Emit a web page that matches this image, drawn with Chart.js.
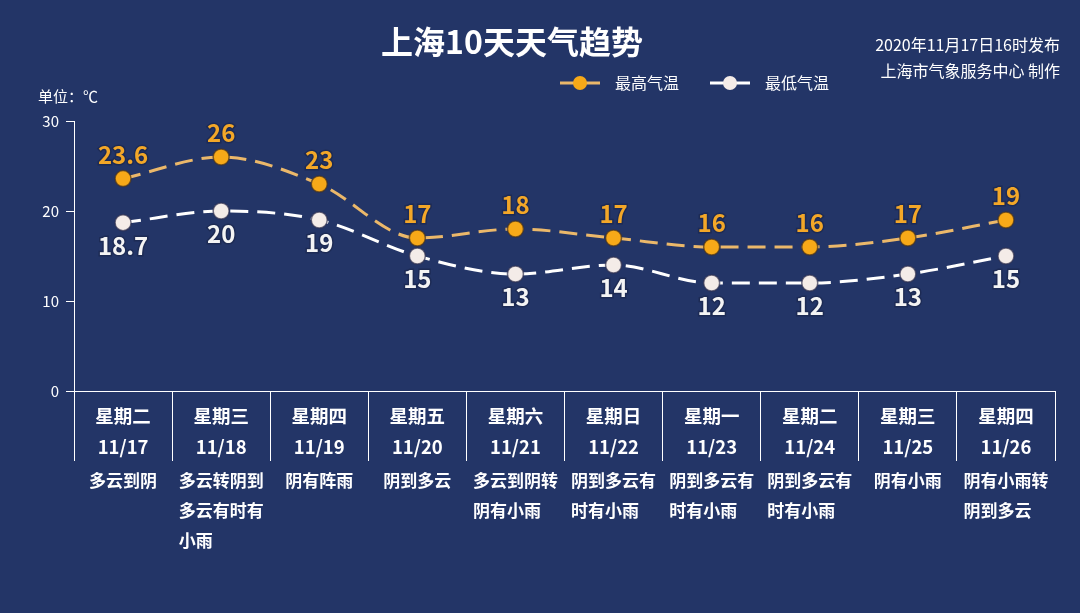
<!DOCTYPE html>
<html>
<head>
<meta charset="utf-8">
<script src="https://cdn.jsdelivr.net/npm/chart.js@4/dist/chart.umd.min.js"></script>
<style>
html,body{margin:0;padding:0;background:#233567;}
#wrap{width:1080px;height:613px;position:relative;}
</style>
</head>
<body>
<div id="wrap"><canvas id="c" width="1080" height="613"></canvas></div>
<script>
const weekdays = ["星期二","星期三","星期四","星期五","星期六","星期日","星期一","星期二","星期三","星期四"];
const dates = ["11/17","11/18","11/19","11/20","11/21","11/22","11/23","11/24","11/25","11/26"];
const weather = [
  ["多云到阴"],
  ["多云转阴到","多云有时有","小雨"],
  ["阴有阵雨"],
  ["阴到多云"],
  ["多云到阴转","阴有小雨"],
  ["阴到多云有","时有小雨"],
  ["阴到多云有","时有小雨"],
  ["阴到多云有","时有小雨"],
  ["阴有小雨"],
  ["阴有小雨转","阴到多云"]
];
const highTemps = [23.6, 26, 23, 17, 18, 17, 16, 16, 17, 19];
const lowTemps = [18.7, 20, 19, 15, 13, 14, 12, 12, 13, 15];
const yTicks = [0, 10, 20, 30];
const titleText = "上海10天天气趋势";
const issueText = ["2020年11月17日16时发布", "上海市气象服务中心 制作"];
const unitText = "单位：℃";

const FONT = '"Noto Sans CJK SC", "Noto Sans", sans-serif';

const labels = weekdays.map((w, i) => [w, dates[i]]);

const bgPlugin = {
  id: 'bg',
  beforeDraw(chart) {
    const ctx = chart.ctx;
    ctx.save();
    ctx.fillStyle = '#233567';
    ctx.fillRect(0, 0, chart.width, chart.height);
    ctx.restore();
  }
};

const valueLabels = {
  id: 'valueLabels',
  afterDatasetsDraw(chart) {
    const ctx = chart.ctx;
    chart.data.datasets.forEach((ds, di) => {
      const meta = chart.getDatasetMeta(di);
      ctx.save();
      ctx.font = 'bold 24px ' + FONT;
      ctx.textAlign = 'center';
      ctx.textBaseline = 'middle';
      meta.data.forEach((pt, i) => {
        const y = ds.labelPos === 'top' ? pt.y - 24 : pt.y + 23;
        ctx.lineWidth = 3;
        ctx.strokeStyle = 'rgba(25,35,70,0.55)';
        ctx.strokeText(String(ds.data[i]), pt.x, y);
        ctx.fillStyle = ds.labelColor;
        ctx.fillText(String(ds.data[i]), pt.x, y);
      });
      ctx.restore();
    });
  }
};

const decor = {
  id: 'decor',
  afterDraw(chart) {
    const ctx = chart.ctx;
    const xs = chart.scales.x;
    ctx.save();
    // weather descriptions
    ctx.font = 'bold 17px ' + FONT;
    ctx.fillStyle = '#ffffff';
    ctx.textBaseline = 'middle';
    ctx.textAlign = 'left';
    weather.forEach((lines, i) => {
      const cx = xs.getPixelForTick(i);
      let w = 0;
      lines.forEach(l => { w = Math.max(w, ctx.measureText(l).width); });
      const x0 = cx - w / 2;
      lines.forEach((l, j) => ctx.fillText(l, x0, 481 + j * 30));
    });
    // title
    ctx.font = 'bold 32px ' + FONT;
    ctx.textAlign = 'center';
    ctx.fillText(titleText, 512, 42);
    // issue text
    ctx.font = '16px ' + FONT;
    ctx.textAlign = 'right';
    ctx.fillText(issueText[0], 1060, 45);
    ctx.fillText(issueText[1], 1060, 71);
    // unit
    ctx.font = '15px ' + FONT;
    ctx.textAlign = 'left';
    ctx.fillText(unitText, 38, 96);
    // legend
    const items = [
      {x: 560, ds: chart.data.datasets[0]},
      {x: 710, ds: chart.data.datasets[1]}
    ];
    items.forEach(it => {
      const y = 83;
      ctx.strokeStyle = it.ds.borderColor;
      ctx.lineWidth = 3;
      ctx.beginPath();
      ctx.moveTo(it.x, y);
      ctx.lineTo(it.x + 40, y);
      ctx.stroke();
      ctx.fillStyle = it.ds.pointBackgroundColor;
      ctx.beginPath();
      ctx.arc(it.x + 20, y, 7, 0, Math.PI * 2);
      ctx.fill();
      ctx.fillStyle = '#ffffff';
      ctx.font = '16px ' + FONT;
      ctx.textAlign = 'left';
      ctx.fillText(it.ds.label, it.x + 55, y);
    });
    ctx.restore();
  }
};

new Chart(document.getElementById('c'), {
  type: 'line',
  data: {
    labels: labels,
    datasets: [
      {
        label: '最高气温',
        data: highTemps,
        borderColor: '#ebb86a',
        borderWidth: 3,
        borderDash: [18, 9],
        cubicInterpolationMode: 'monotone',
        pointRadius: 8,
        pointBackgroundColor: '#f7a918',
        pointBorderColor: 'rgba(70,50,30,0.7)',
        pointBorderWidth: 1.5,
        labelPos: 'top',
        labelColor: '#f3a728',
        clip: false
      },
      {
        label: '最低气温',
        data: lowTemps,
        borderColor: '#ffffff',
        borderWidth: 3,
        borderDash: [18, 9],
        cubicInterpolationMode: 'monotone',
        pointRadius: 8,
        pointBackgroundColor: '#f4ece8',
        pointBorderColor: 'rgba(50,50,80,0.7)',
        pointBorderWidth: 1.5,
        labelPos: 'bottom',
        labelColor: '#f4f4f4',
        clip: false
      }
    ]
  },
  options: {
    responsive: false,
    animation: false,
    devicePixelRatio: 1,
    layout: { padding: { top: 121, right: 25, left: 0, bottom: 0 } },
    plugins: { legend: { display: false }, title: { display: false }, tooltip: { enabled: false } },
    scales: {
      x: {
        type: 'category',
        offset: true,
        grid: { offset: true, drawOnChartArea: false, tickLength: 70, color: '#ffffff', lineWidth: 1 },
        border: { color: '#ffffff', width: 1 },
        ticks: { color: '#ffffff', font: { family: FONT, size: 18.5, weight: 'bold', lineHeight: 1.68 }, padding: -60.5, maxRotation: 0, autoSkip: false },
        afterFit(s) { s.height = 222; }
      },
      y: {
        min: 0, max: 30,
        afterBuildTicks(s) { s.ticks = yTicks.map(v => ({ value: v })); },
        grid: { drawOnChartArea: false, tickLength: 8, color: '#ffffff', lineWidth: 1 },
        border: { color: '#ffffff', width: 1 },
        ticks: { color: '#ffffff', font: { family: FONT, size: 15 }, padding: 7 },
        afterFit(s) { s.width = 74; }
      }
    }
  },
  plugins: [bgPlugin, valueLabels, decor]
});
</script>
</body>
</html>
